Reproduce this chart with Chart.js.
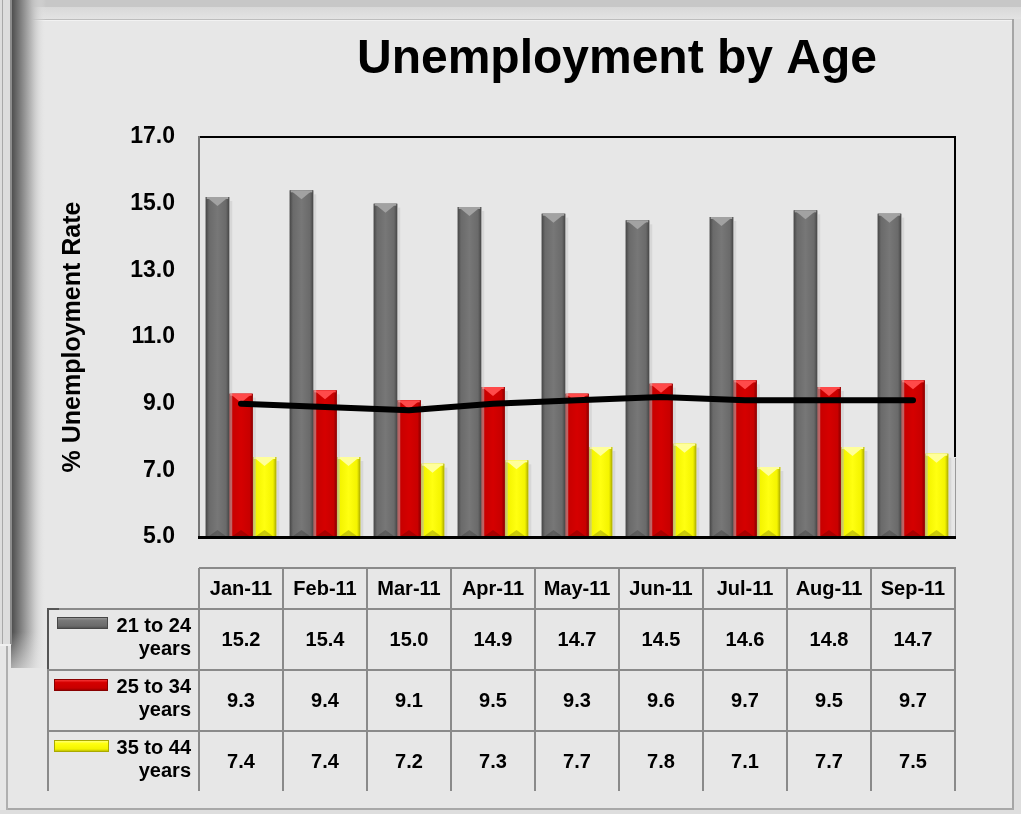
<!DOCTYPE html>
<html><head><meta charset="utf-8">
<script src="https://cdn.jsdelivr.net/npm/chart.js@4.4.1/dist/chart.umd.min.js"></script>
<style>html,body{margin:0;padding:0;background:#e7e7e7;overflow:hidden}</style>
</head><body>
<canvas id="c" width="1021" height="814"></canvas>
<script>
const categories = ['Jan-11','Feb-11','Mar-11','Apr-11','May-11','Jun-11','Jul-11','Aug-11','Sep-11'];
const age21to24 = [15.2,15.4,15.0,14.9,14.7,14.5,14.6,14.8,14.7];
const age25to34 = [9.3,9.4,9.1,9.5,9.3,9.6,9.7,9.5,9.7];
const age35to44 = [7.4,7.4,7.2,7.3,7.7,7.8,7.1,7.7,7.5];
const trendLine = [9.0,8.9,8.8,9.0,9.1,9.2,9.1,9.1,9.1];
const seriesLabels = [['21 to 24','years'],['25 to 34','years'],['35 to 44','years']];
const yTicks = [5,7,9,11,13,15,17];
const chartTitle = 'Unemployment by Age';
const yTitle = '% Unemployment Rate';

const FONT = "'Liberation Sans', Arial, sans-serif";
Chart.defaults.font.family = FONT;

const styles = [
  {body:'#6a6a6a', edge:'#464646', light:'#777777', top:'#a2a2a2'},
  {body:'#c80000', edge:'#880000', light:'#d50000', top:'#ff4a4a'},
  {body:'#f4f400', edge:'#aaaa00', light:'#ffff10', top:'#ffff9a'}
];

const backdrop = {
  id:'backdrop',
  beforeDraw(chart){
    const ctx = chart.ctx, W = chart.width, H = chart.height;
    ctx.save();
    ctx.fillStyle = '#e7e7e7'; ctx.fillRect(0,0,W,H);
    // top band
    ctx.fillStyle = '#c7c7c7'; ctx.fillRect(0,0,W,7);
    let g = ctx.createLinearGradient(0,7,0,19);
    g.addColorStop(0,'#d8d8d8'); g.addColorStop(1,'#e3e3e3');
    ctx.fillStyle = g; ctx.fillRect(0,7,W,12);
    ctx.fillStyle = '#bdbdbd'; ctx.fillRect(0,19,1014,1);
    ctx.fillStyle = '#f2f2f2'; ctx.fillRect(0,20,1012,1);
    // right frame
    ctx.fillStyle = '#a5a5a5'; ctx.fillRect(1012,19,2,792);
    ctx.fillStyle = '#dedede'; ctx.fillRect(1014,19,7,795);
    // bottom frame
    ctx.fillStyle = '#a8a8a8'; ctx.fillRect(6,808,1008,2);
    ctx.fillStyle = '#dedede'; ctx.fillRect(0,810,W,4);
    // left frame line
    ctx.fillStyle = '#b0b0b0'; ctx.fillRect(6,640,2,170);
    // shadow
    g = ctx.createLinearGradient(11,0,46,0);
    g.addColorStop(0,'#4a4a4a'); g.addColorStop(0.25,'#7a7a7a'); g.addColorStop(0.6,'#bdbdbd'); g.addColorStop(1,'rgba(231,231,231,0)');
    ctx.fillStyle = g; ctx.fillRect(11,0,35,668);
    g = ctx.createLinearGradient(0,632,0,690);
    g.addColorStop(0,'rgba(231,231,231,0)'); g.addColorStop(1,'rgba(231,231,231,1)');
    ctx.fillStyle = g; ctx.fillRect(9,632,40,59);
    // left panel
    ctx.fillStyle = '#dddddd'; ctx.fillRect(0,0,11,645);
    ctx.fillStyle = '#a8a8a8'; ctx.fillRect(2,0,1,645);
    ctx.fillStyle = '#8c8c8c'; ctx.fillRect(10,0,2,645);
    ctx.fillStyle = '#f0f0f0'; ctx.fillRect(0,644,11,2);
    // title
    ctx.fillStyle = '#000';
    ctx.font = 'bold 48px ' + FONT;
    ctx.textAlign = 'center'; ctx.textBaseline = 'alphabetic';
    ctx.fillText(chartTitle, 617, 73);
    ctx.restore();
  },
  beforeDatasetsDraw(chart){
    const ctx = chart.ctx, a = chart.chartArea;
    ctx.save();
    ctx.fillStyle = '#000';
    ctx.fillRect(a.left-1, a.top-1, a.right-a.left+2, 2);
    ctx.fillRect(a.right-1, a.top-1, 2, 458-a.top);
    ctx.fillStyle = '#777';
    ctx.fillRect(a.left-1, a.top-1, 2, a.bottom-a.top+2);
    ctx.fillStyle = '#9a9a9a';
    ctx.fillRect(a.right, 458, 1, a.bottom-458);
    ctx.restore();
  },
  afterDatasetDraw(chart, args){
    const meta = args.meta;
    if (meta.type !== 'bar') return;
    const st = styles[args.index];
    const ctx = chart.ctx, a = chart.chartArea;
    ctx.save();
    ctx.beginPath(); ctx.rect(a.left, a.top, a.right-a.left, a.bottom-a.top); ctx.clip();
    meta.data.forEach(el => {
      const p = el.getProps(['x','y','base','width'], true);
      const x0 = p.x - p.width/2, x1 = p.x + p.width/2, top = p.y, bot = Math.min(p.base, a.bottom);
      ctx.fillStyle = 'rgba(200,200,200,0.5)';
      ctx.fillRect(x1, top+4, 3, bot-top-4);
      const g = ctx.createLinearGradient(x0,0,x1,0);
      g.addColorStop(0, st.edge); g.addColorStop(0.14, st.body);
      g.addColorStop(0.5, st.light); g.addColorStop(0.86, st.body); g.addColorStop(1, st.edge);
      ctx.fillStyle = g;
      ctx.fillRect(x0, top, x1-x0, bot-top);
      ctx.fillStyle = st.top;
      ctx.fillRect(x0+1, top, x1-x0-2, 2);
      ctx.beginPath();
      ctx.moveTo(x0+2, top+1); ctx.lineTo(x1-2, top+1); ctx.lineTo(p.x, top+Math.min(9,(bot-top)/2));
      ctx.closePath(); ctx.fill();
      ctx.globalAlpha = 0.2; ctx.fillStyle = '#000';
      ctx.beginPath();
      ctx.moveTo(x0+2, bot); ctx.lineTo(x1-2, bot); ctx.lineTo(p.x, bot-7);
      ctx.closePath(); ctx.fill();
      ctx.globalAlpha = 1;
    });
    ctx.restore();
  },
  afterDraw(chart){
    const ctx = chart.ctx, a = chart.chartArea, xs = chart.scales.x;
    ctx.save();
    ctx.fillStyle = '#000';
    ctx.fillRect(a.left-1, a.bottom-1, a.right-a.left+2, 3);
    const cw = xs.getPixelForValue(1) - xs.getPixelForValue(0);
    const L = a.left, R = a.right, legL = 48;
    const hTop = 568, rowTops = [609,670,731], bottom = 791;
    ctx.fillStyle = '#8a8a8a';
    ctx.fillRect(L, hTop-1, R-L+1, 2);
    rowTops.forEach(t => ctx.fillRect(legL, t-1, R-legL+1, 2));
    for (let i=0;i<=categories.length;i++){
      const x = Math.round(L + i*cw);
      ctx.fillRect(x-1, hTop, 2, bottom-hTop);
    }
    ctx.fillRect(legL-1, rowTops[0], 2, bottom-rowTops[0]);
    ctx.fillStyle = '#555';
    ctx.fillRect(legL-1, rowTops[0]-1, 12, 2);
    ctx.fillRect(legL-1, rowTops[0], 2, 60);
    ctx.fillStyle = '#000';
    ctx.font = 'bold 20px ' + FONT;
    ctx.textAlign = 'center'; ctx.textBaseline = 'alphabetic';
    const data = [age21to24, age25to34, age35to44];
    categories.forEach((c,i) => {
      const cx = xs.getPixelForValue(i);
      ctx.fillText(c, cx, 595);
      data.forEach((d,r) => ctx.fillText(d[i].toFixed(1), cx, rowTops[r]+37));
    });
    ctx.textAlign = 'right';
    const sw = [[57,617,51,12],[54,679,54,12],[54,740,55,12]];
    seriesLabels.forEach((lab,r) => {
      ctx.fillStyle = '#000';
      ctx.fillText(lab[0], 191, rowTops[r]+23);
      ctx.fillText(lab[1], 191, rowTops[r]+46);
      const st = styles[r], [sx,sy,sww,sh] = sw[r];
      const g = ctx.createLinearGradient(0,sy,0,sy+sh);
      g.addColorStop(0, st.top); g.addColorStop(0.3, st.light); g.addColorStop(0.75, st.body); g.addColorStop(1, st.edge);
      ctx.fillStyle = g; ctx.fillRect(sx, sy, sww, sh);
      ctx.strokeStyle = st.edge; ctx.lineWidth = 1;
      ctx.strokeRect(sx+0.5, sy+0.5, sww-1, sh-1);
    });
    ctx.restore();
  }
};

const barOpts = {order:1, base:5, categoryPercentage:0.84, barPercentage:1.0, borderWidth:0};

new Chart(document.getElementById('c'), {
  data: {
    labels: categories,
    datasets: [
      Object.assign({type:'bar', label:'21 to 24 years', data:age21to24, backgroundColor:styles[0].body}, barOpts),
      Object.assign({type:'bar', label:'25 to 34 years', data:age25to34, backgroundColor:styles[1].body}, barOpts),
      Object.assign({type:'bar', label:'35 to 44 years', data:age35to44, backgroundColor:styles[2].body}, barOpts),
      {type:'line', label:'Trend', data:trendLine, borderColor:'#000', borderWidth:6, pointRadius:0, fill:false, tension:0, order:0, borderCapStyle:'round', borderJoinStyle:'round'}
    ]
  },
  options: {
    responsive:false, animation:false, devicePixelRatio:1,
    layout:{padding:{left:50, top:137, right:66, bottom:277}},
    plugins:{legend:{display:false}, title:{display:false}, tooltip:{enabled:false}},
    scales:{
      x:{display:false, offset:true},
      y:{
        min:5, max:17,
        afterBuildTicks(s){ s.ticks = yTicks.map(v => ({value:v})); },
        afterFit(s){ s.width = 149; },
        grid:{display:false, drawTicks:false},
        border:{display:false},
        ticks:{padding:24, color:'#000', font:{size:23, weight:'bold'}, callback:v => Number(v).toFixed(1)},
        title:{display:true, text:yTitle, color:'#000', font:{size:25, weight:'bold'}, padding:{top:8, bottom:0}}
      }
    }
  },
  plugins:[backdrop]
});
</script>
</body></html>
